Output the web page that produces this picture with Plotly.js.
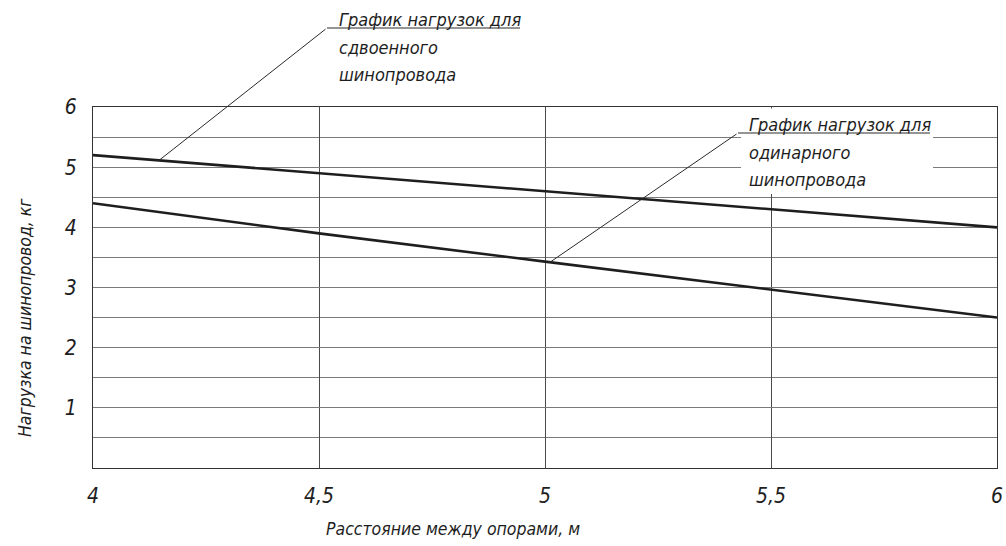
<!DOCTYPE html>
<html>
<head>
<meta charset="utf-8">
<script src="https://cdn.plot.ly/plotly-3.0.1.min.js"></script>
<style>html,body{margin:0;padding:0;background:#fff;}#chart{width:1006px;height:546px;}</style>
</head>
<body>
<div id="chart"></div>
<script>
// ---- data ----
const spans = [4, 4.5, 5, 5.5, 6];                 // Расстояние между опорами, м
const loadDouble = [5.2, 4.9, 4.6, 4.3, 4.0];      // сдвоенный шинопровод
const loadSingle = [4.4, 3.9, 3.43, 2.97, 2.5];    // одинарный шинопровод
const xTickVals = [4, 4.5, 5, 5.5, 6];
const xTickText = ['4', '4,5', '5', '5,5', '6'];
const yTickVals = [1, 2, 3, 4, 5, 6];
const yTickText = ['1', '2', '3', '4', '5', '6'];
const yMinorVals = [0.5, 1.5, 2.5, 3.5, 4.5, 5.5];
const labelDoubleLines = ['График нагрузок для', 'сдвоенного', 'шинопровода'];
const labelSingleLines = ['График нагрузок для', 'одинарного', 'шинопровода'];
const xTitle = 'Расстояние между опорами, м';
const yTitle = 'Нагрузка на шинопровод, кг';

// ---- layout geometry (pixels) ----
const W = 1006, H = 546;
const M = {l: 93, r: 9, t: 107, b: 78};
const PW = W - M.l - M.r, PH = H - M.t - M.b;
const px = p => (p - M.l) / PW;          // pixel x -> paper
const py = p => (H - M.b - p) / PH;      // pixel y -> paper
const FONT = '"DejaVu Sans Condensed", "DejaVu Sans", sans-serif';
const INK = '#1e1e1e';
const LABEL_SIZE = 18, TITLE_SIZE = 17.5, TICK_SIZE = 21;

function interp(xs, ys, x) {
  for (let i = 0; i < xs.length - 1; i++) {
    if (x >= xs[i] && x <= xs[i + 1]) {
      const t = (x - xs[i]) / (xs[i + 1] - xs[i]);
      return ys[i] + t * (ys[i + 1] - ys[i]);
    }
  }
  return ys[ys.length - 1];
}

const traces = [
  {x: spans, y: loadDouble, mode: 'lines', line: {color: INK, width: 2.6}, hoverinfo: 'skip'},
  {x: spans, y: loadSingle, mode: 'lines', line: {color: INK, width: 2.6}, hoverinfo: 'skip'}
];

// leader tips on the curves
const tip1x = 4.146, tip1y = interp(spans, loadDouble, tip1x);
const tip2x = 5.011, tip2y = interp(spans, loadSingle, tip2x);
const toPxX = v => M.l + (v - 4) / 2 * PW;
const toPxY = v => H - M.b - v / 6 * PH;

const leaderStyle = {color: '#2a2a2a', width: 1};
const textFont = s => ({family: FONT, size: s, color: INK, style: 'italic'});

const annotations = [
  {x: tip1x, y: tip1y, xref: 'x', yref: 'y', text: '', showarrow: true,
   axref: 'pixel', ayref: 'pixel', ax: 327 - toPxX(tip1x), ay: 28 - toPxY(tip1y),
   arrowhead: 6, arrowsize: 0.4, arrowwidth: 1, arrowcolor: '#2a2a2a', standoff: 0, startstandoff: 0},
  {x: tip2x, y: tip2y, xref: 'x', yref: 'y', text: '', showarrow: true,
   axref: 'pixel', ayref: 'pixel', ax: 738 - toPxX(tip2x), ay: 133 - toPxY(tip2y),
   arrowhead: 6, arrowsize: 0.4, arrowwidth: 1, arrowcolor: '#2a2a2a', standoff: 0, startstandoff: 0},
  {x: px(453), y: py(529), xref: 'paper', yref: 'paper', xanchor: 'center', yanchor: 'middle',
   showarrow: false, text: xTitle, font: textFont(TITLE_SIZE)},
  {x: px(25), y: py(318), xref: 'paper', yref: 'paper', xanchor: 'center', yanchor: 'middle',
   showarrow: false, text: yTitle, textangle: -90, font: textFont(TITLE_SIZE)}
];
const label1Centers = [19, 47, 75];
const label2Centers = [124, 152, 179];
labelDoubleLines.forEach((t, i) => annotations.push({
  x: px(337), y: py(label1Centers[i]), xref: 'paper', yref: 'paper', xanchor: 'left', yanchor: 'middle',
  showarrow: false, text: t, font: textFont(LABEL_SIZE)}));
labelSingleLines.forEach((t, i) => annotations.push({
  x: px(747), y: py(label2Centers[i]), xref: 'paper', yref: 'paper', xanchor: 'left', yanchor: 'middle',
  showarrow: false, text: t, font: textFont(LABEL_SIZE)}));

const layout = {
  width: W, height: H,
  margin: M,
  paper_bgcolor: '#fff', plot_bgcolor: '#fff',
  showlegend: false,
  font: textFont(TICK_SIZE),
  xaxis: {
    range: [4, 6], tickvals: xTickVals, ticktext: xTickText,
    showgrid: true, gridcolor: '#4a4a4a', gridwidth: 1,
    showline: true, linecolor: '#333', linewidth: 1, mirror: true,
    ticks: '', zeroline: false, ticklabelstandoff: 9,
    tickfont: textFont(TICK_SIZE)
  },
  yaxis: {
    range: [0, 6], tickvals: yTickVals, ticktext: yTickText,
    showgrid: true, gridcolor: '#7a7a7a', gridwidth: 1,
    minor: {tickvals: yMinorVals, showgrid: true, gridcolor: '#7a7a7a', gridwidth: 1, ticks: ''},
    showline: true, linecolor: '#333', linewidth: 1, mirror: true,
    ticks: '', zeroline: false, ticklabelstandoff: 11,
    tickfont: textFont(TICK_SIZE)
  },
  shapes: [
    // white backing behind the second label
    {type: 'rect', xref: 'paper', yref: 'paper', layer: 'above',
     x0: px(741), x1: px(933), y0: py(194), y1: py(108.5),
     fillcolor: '#fff', line: {width: 0}},
    // underline of label 1
    {type: 'line', xref: 'paper', yref: 'paper', layer: 'above',
     x0: px(327), y0: py(28), x1: px(520), y1: py(28), line: leaderStyle},
    // underline of label 2
    {type: 'line', xref: 'paper', yref: 'paper', layer: 'above',
     x0: px(738), y0: py(133), x1: px(930), y1: py(133), line: leaderStyle}
  ],
  annotations: annotations
};

Plotly.newPlot('chart', traces, layout, {staticPlot: true, displayModeBar: false});
</script>
</body>
</html>
